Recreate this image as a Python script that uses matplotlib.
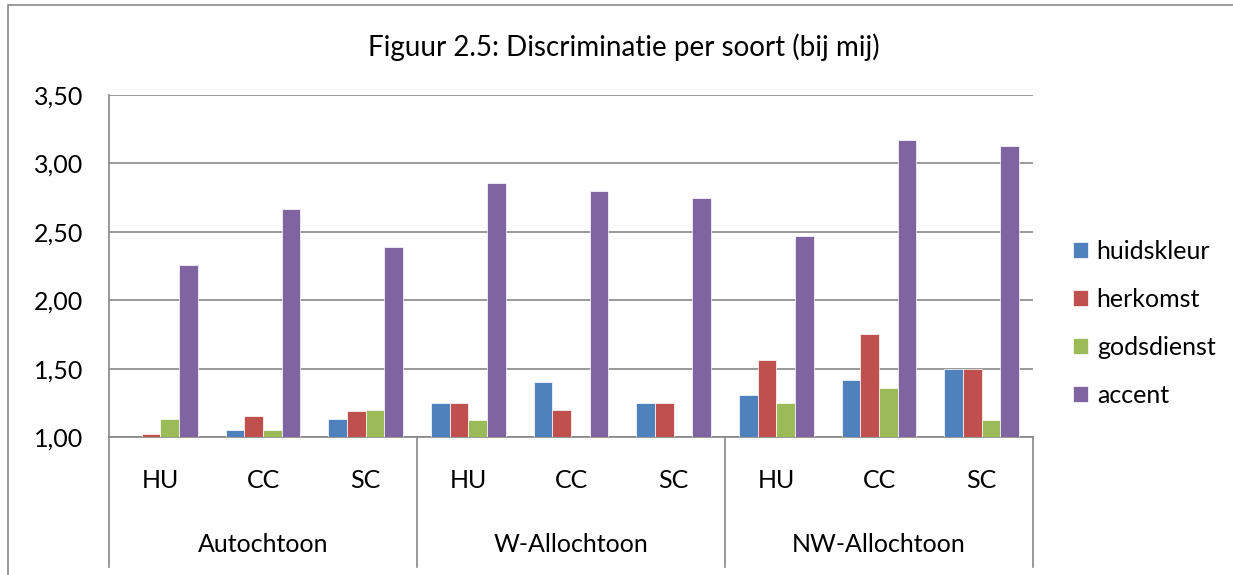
import matplotlib.pyplot as plt
from matplotlib.patches import Rectangle
from matplotlib.ticker import FuncFormatter
import numpy as np

plt.rcParams['font.family'] = ['Lato', 'DejaVu Sans']

groups = ["Autochtoon", "W-Allochtoon", "NW-Allochtoon"]
subcats = ["HU", "CC", "SC"]
series = ["huidskleur", "herkomst", "godsdienst", "accent"]
colors = ["#4F81BD", "#C0504D", "#9BBB59", "#8064A2"]

# one value per bar, order: Autochtoon HU/CC/SC, W-Allochtoon HU/CC/SC, NW-Allochtoon HU/CC/SC
huidskleur = [1.00, 1.05, 1.13, 1.25, 1.40, 1.25, 1.31, 1.42, 1.50]
herkomst = [1.02, 1.15, 1.19, 1.25, 1.20, 1.25, 1.56, 1.75, 1.50]
godsdienst = [1.13, 1.05, 1.20, 1.125, 1.00, 1.00, 1.25, 1.36, 1.125]
accent = [2.26, 2.67, 2.39, 2.86, 2.80, 2.75, 2.47, 3.17, 3.13]
values = [huidskleur, herkomst, godsdienst, accent]

W, H = 1233, 575
fig = plt.figure(figsize=(W / 100, H / 100), dpi=100)

# outer chart border (cut off at right and bottom like the reference)
fig.patches.append(Rectangle((8 / W, -0.05), 1.2, 1 - 5 / H + 0.05,
                             transform=fig.transFigure, fill=False,
                             edgecolor="#878787", linewidth=1.2))

ax = fig.add_axes([109 / W, (H - 437) / H, (1033 - 109) / W, (437 - 95) / H])

n = len(huidskleur)
x = np.arange(n)
bw = 1 / 5.5
for i, (vals, c) in enumerate(zip(values, colors)):
    ax.bar(x + (i - 1.5) * bw, vals, width=bw, color=c, edgecolor="white",
           linewidth=0.5, label=series[i], zorder=3)

ax.set_xlim(-0.5, n - 0.5)
ax.set_ylim(1, 3.5)
ax.set_yticks(np.arange(1, 3.51, 0.5))
ax.yaxis.set_major_formatter(FuncFormatter(lambda v, p: f"{v:.2f}".replace(".", ",")))
ax.grid(axis="y", color="#878787", linewidth=1.2, zorder=0)
ax.set_xticks([])
ax.tick_params(axis="y", length=0, pad=18.5, labelsize=18)
for s in ["top", "right"]:
    ax.spines[s].set_visible(False)
for s in ["left", "bottom"]:
    ax.spines[s].set_color("#878787")
    ax.spines[s].set_linewidth(1.2)

# category labels and separators below the axis
trans = ax.get_xaxis_transform()
axh = (437 - 95)
for k, lab in enumerate(subcats * len(groups)):
    ax.text(k, -(480 - 437) / axh, lab, transform=trans, ha="center",
            va="center", fontsize=18)
for g, name in enumerate(groups):
    ax.text(g * 3 + 1, -(545 - 437) / axh, name, transform=trans,
            ha="center", va="center", fontsize=18)
for b in np.arange(len(groups) + 1) * 3 - 0.5:
    ax.plot([b, b], [0, -(567 - 437) / axh], transform=trans, color="#878787",
            linewidth=1.2, clip_on=False)

fig.text(624 / W, 1 - 47 / H, "Figuur 2.5: Discriminatie per soort (bij mij)",
         ha="center", va="center", fontsize=20)

leg = fig.legend(loc="upper left", bbox_to_anchor=(1063 / W, 1 - 230 / H),
                 frameon=False, fontsize=18, handlelength=0.6,
                 handleheight=0.6, handletextpad=0.35, labelspacing=1.0,
                 borderaxespad=0)

fig.savefig("out.png", dpi=100)
